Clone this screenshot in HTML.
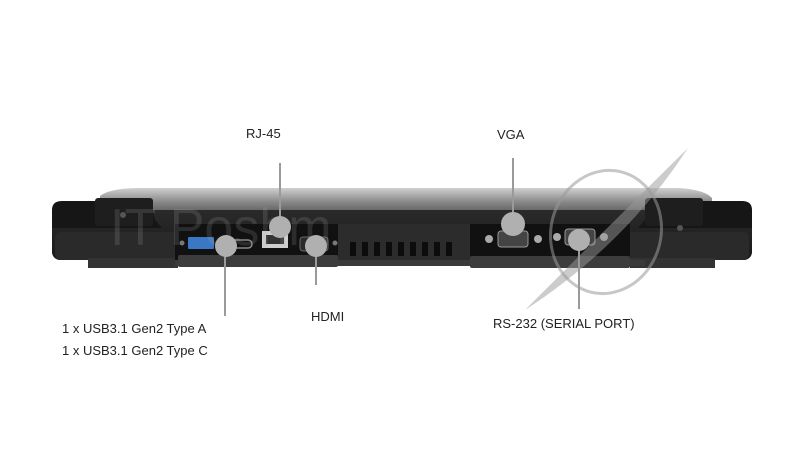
<!DOCTYPE html>
<html><head><meta charset="utf-8"><style>
html,body{margin:0;padding:0;background:#fff;}
svg{display:block}
text{font-family:"Liberation Sans",sans-serif;font-size:13px;fill:#222}
</style></head><body>
<svg width="800" height="466" viewBox="0 0 800 466" xmlns="http://www.w3.org/2000/svg">
<defs>
<linearGradient id="lid" x1="0" y1="0" x2="0" y2="1">
<stop offset="0" stop-color="#d0d0d0"/><stop offset="0.4" stop-color="#8a8a8a"/><stop offset="1" stop-color="#3a3a3a"/>
</linearGradient>
<linearGradient id="body" x1="0" y1="0" x2="0" y2="1">
<stop offset="0" stop-color="#2a2a2a"/><stop offset="1" stop-color="#1a1a1a"/>
</linearGradient>
</defs>
<path d="M100 196 Q110 188 140 188 L680 188 Q705 190 712 198 L712 222 L100 222 Z" fill="url(#lid)"/>
<rect x="52" y="210" width="700" height="50" rx="8" fill="url(#body)"/>
<rect x="55" y="232" width="694" height="28" rx="6" fill="#2a2a2a"/>
<path d="M52 210 Q52 201 62 201 L150 201 L155 220 L162 228 L52 228 Z" fill="#161616"/>
<path d="M752 210 Q752 201 742 201 L650 201 L645 220 L638 228 L752 228 Z" fill="#161616"/>
<rect x="95" y="198" width="58" height="28" rx="3" fill="#1e1e1e"/>
<rect x="645" y="198" width="58" height="28" rx="3" fill="#1e1e1e"/>
<circle cx="123" cy="215" r="3" fill="#555"/><circle cx="680" cy="228" r="3" fill="#555"/>
<rect x="88" y="258" width="90" height="10" fill="#333"/>
<rect x="630" y="258" width="85" height="10" fill="#333"/>
<rect x="175" y="260" width="470" height="6" fill="#3a3a3a"/>
<rect x="175" y="224" width="165" height="36" fill="#111"/>
<rect x="178" y="255" width="160" height="12" rx="2" fill="#3c3c3c"/>
<rect x="188" y="237" width="26" height="12" rx="1" fill="#3b78c4"/>
<rect x="230" y="240" width="22" height="8" rx="4" fill="none" stroke="#888" stroke-width="1.5"/>
<rect x="262" y="231" width="26" height="17" fill="#cfcfcf"/>
<rect x="266" y="235" width="18" height="9" fill="#333"/>
<rect x="300" y="237" width="28" height="14" rx="3" fill="#2a2a2a" stroke="#666"/>
<circle cx="182" cy="243" r="2.5" fill="#777"/><circle cx="335" cy="243" r="2.5" fill="#777"/>
<rect x="338" y="224" width="132" height="36" fill="#2c2c2c"/>
<g fill="#0c0c0c">
<rect x="350" y="242" width="6" height="14"/><rect x="362" y="242" width="6" height="14"/><rect x="374" y="242" width="6" height="14"/><rect x="386" y="242" width="6" height="14"/><rect x="398" y="242" width="6" height="14"/><rect x="410" y="242" width="6" height="14"/><rect x="422" y="242" width="6" height="14"/><rect x="434" y="242" width="6" height="14"/><rect x="446" y="242" width="6" height="14"/>
</g>
<rect x="470" y="224" width="160" height="36" fill="#111"/>
<rect x="470" y="256" width="160" height="12" rx="2" fill="#3c3c3c"/>
<rect x="498" y="231" width="30" height="16" rx="3" fill="#444" stroke="#999"/>
<circle cx="489" cy="239" r="4" fill="#aaa"/><circle cx="538" cy="239" r="4" fill="#aaa"/>
<rect x="565" y="229" width="30" height="16" rx="3" fill="#444" stroke="#999"/>
<circle cx="557" cy="237" r="4" fill="#aaa"/><circle cx="604" cy="237" r="4" fill="#aaa"/>
<ellipse cx="606" cy="232" rx="55" ry="62" fill="none" stroke="#999" stroke-opacity="0.55" stroke-width="3" transform="rotate(15 606 232)"/>
<path d="M525 310 Q625 245 688 148 Q610 225 525 310 Z" fill="#999" fill-opacity="0.5"/>
<text x="110" y="245" style="font-size:52px;fill:#aaa;fill-opacity:0.18">IT Poshm</text>
<g stroke="#9a9a9a" stroke-width="2">
<line x1="280" y1="163" x2="280" y2="220"/>
<line x1="513" y1="158" x2="513" y2="220"/>
<line x1="225" y1="250" x2="225" y2="316"/>
<line x1="316" y1="250" x2="316" y2="285"/>
<line x1="579" y1="245" x2="579" y2="309"/>
</g>
<g fill="#b0b0b0">
<circle cx="280" cy="227" r="11"/><circle cx="226" cy="246" r="11"/><circle cx="316" cy="246" r="11"/>
<circle cx="513" cy="224" r="12"/><circle cx="579" cy="240" r="11"/>
</g>
<text x="246" y="138">RJ-45</text>
<text x="497" y="139">VGA</text>
<text x="311" y="321">HDMI</text>
<text x="493" y="328">RS-232 (SERIAL PORT)</text>
<text x="62" y="333">1 x USB3.1 Gen2 Type A</text>
<text x="62" y="355">1 x USB3.1 Gen2 Type C</text>
</svg>
</body></html>
